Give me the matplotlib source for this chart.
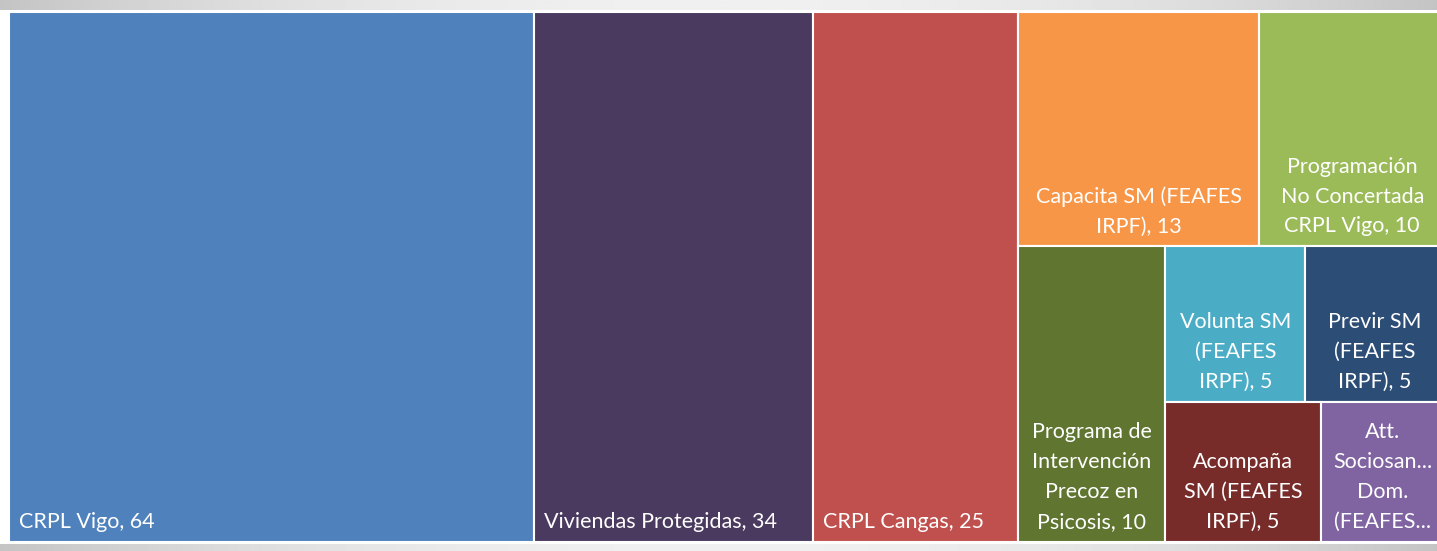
import numpy as np
import matplotlib.pyplot as plt
from matplotlib.patches import Rectangle

# data
names = ['CRPL Vigo', 'Viviendas Protegidas', 'CRPL Cangas',
         'Capacita SM (FEAFES\nIRPF)', 'Programación\nNo Concertada\nCRPL Vigo',
         'Programa de\nIntervención\nPrecoz en\nPsicosis', 'Volunta SM\n(FEAFES\nIRPF)',
         'Previr SM\n(FEAFES\nIRPF)', 'Acompaña\nSM (FEAFES\nIRPF)',
         'Att.\nSociosan...\nDom.\n(FEAFES...']
values = [64, 34, 25, 13, 10, 10, 5, 5, 5, 4]
colors = ['#4F81BD', '#4B3A5F', '#C0504D', '#F79646', '#9BBB59',
          '#5F7530', '#4BACC6', '#2C4D75', '#772C2A', '#8064A2']
show_value = [True] * 9 + [False]

# strips of the treemap layout: (item indices, 'v' column / 'h' row)
strips = [([0], 'v'), ([1], 'v'), ([2], 'v'), ([3, 4], 'h'),
          ([5], 'v'), ([6, 7], 'h'), ([8, 9], 'h')]


def layout(vals, strips, x, y, w, h):
    rects = {}
    scale = w * h / sum(vals)
    for idx, orient in strips:
        a = sum(vals[i] for i in idx) * scale
        if orient == 'v':
            cw = a / h
            yy = y
            for i in idx:
                ih = vals[i] * scale / cw
                rects[i] = (x, yy, cw, ih)
                yy += ih
            x += cw
            w -= cw
        else:
            rh = a / w
            xx = x
            for i in idx:
                iw = vals[i] * scale / rh
                rects[i] = (xx, y, iw, rh)
                xx += iw
            y += rh
            h -= rh
    return rects


FW, FH = 1437, 551
fig = plt.figure(figsize=(FW / 100, FH / 100), dpi=100)
fig.patch.set_facecolor('white')

# grey gradient bands top and bottom
t = np.linspace(-1, 1, 600)
grad = 196 + 44 * (1 - t ** 2)
grad = np.tile(grad / 255, (2, 1))
for bottom, height in [(1 - 10 / FH, 10 / FH), (0, 7 / FH)]:
    bax = fig.add_axes([0, bottom, 1, height])
    bax.imshow(grad, cmap='gray', vmin=0, vmax=1, aspect='auto')
    bax.axis('off')

W, H = 1436, 530
ax = fig.add_axes([9 / FW, 9 / FH, W / FW, H / FH])
ax.set_xlim(0, W)
ax.set_ylim(H, 0)
ax.axis('off')

rects = layout(values, strips, 0, 0, W, H)
for i, (x, y, w, h) in rects.items():
    ax.add_patch(Rectangle((x, y), w, h, facecolor=colors[i],
                           edgecolor='white', linewidth=1.5))
    label = names[i] + (', %d' % values[i] if show_value[i] else '')
    if '\n' in label:
        ax.text(x + w / 2, y + h - 10, label, ha='center', va='bottom',
                color='white', fontsize=15.5, family='Lato', linespacing=1.62)
    else:
        ax.text(x + 10, y + h - 10, label, ha='left', va='bottom',
                color='white', fontsize=15.5, family='Lato')

fig.savefig('out.png', dpi=100)
